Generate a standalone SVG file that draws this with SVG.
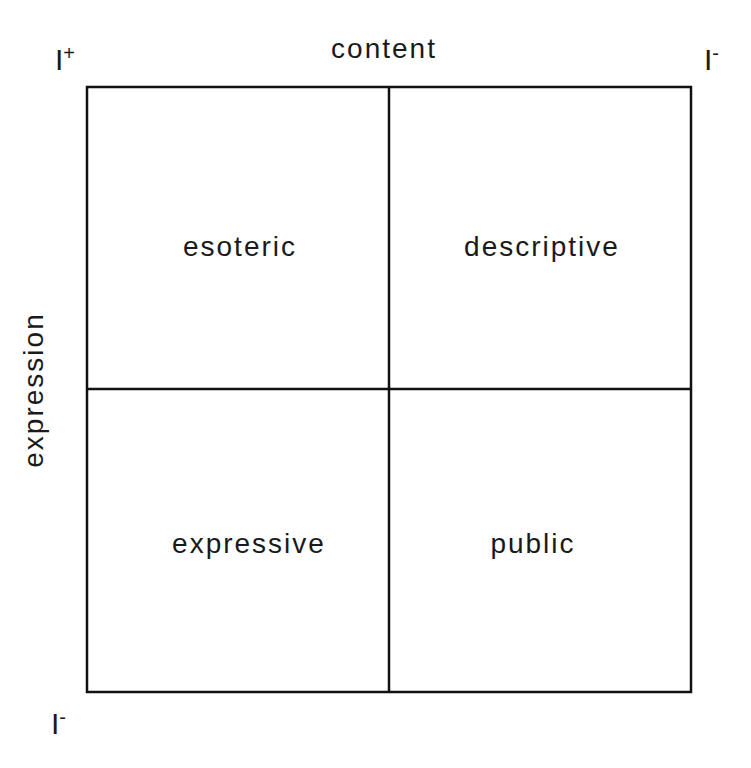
<svg xmlns="http://www.w3.org/2000/svg" width="751" height="768" viewBox="0 0 751 768">
<style>
.t{font-family:"Liberation Sans",Arial,sans-serif;font-size:28px;letter-spacing:2px;fill:#1a1a1a;text-anchor:middle}
.s{font-family:"Liberation Sans",Arial,sans-serif;font-size:30px;fill:#1a1a1a}
.sup{font-size:20px}
.ln{stroke:#111;stroke-width:2.5;fill:none}
</style>
<rect width="751" height="768" fill="#fff"/>
<g id="connectors">
<rect class="ln" x="87" y="87" width="604" height="605"/>
<line class="ln" x1="389" y1="87" x2="389" y2="692"/>
<line class="ln" x1="87" y1="389" x2="691" y2="389"/>
</g>
<g id="esoteric"><text class="t" x="240" y="256">esoteric</text></g>
<g id="descriptive"><text class="t" x="542" y="256">descriptive</text></g>
<g id="expressive"><text class="t" x="249" y="553">expressive</text></g>
<g id="public"><text class="t" x="533" y="553">public</text></g>
<g id="content"><text class="t" x="384" y="58">content</text></g>
<g id="expression"><text class="t" transform="translate(43,390) rotate(-90)">expression</text></g>
<g id="iplus"><text class="s" x="55" y="70">I<tspan class="sup" dy="-10">+</tspan></text></g>
<g id="iminus-top"><text class="s" x="704" y="70">I<tspan class="sup" dy="-10">-</tspan></text></g>
<g id="iminus-bottom"><text class="s" x="51" y="734">I<tspan class="sup" dy="-10">-</tspan></text></g>
</svg>
